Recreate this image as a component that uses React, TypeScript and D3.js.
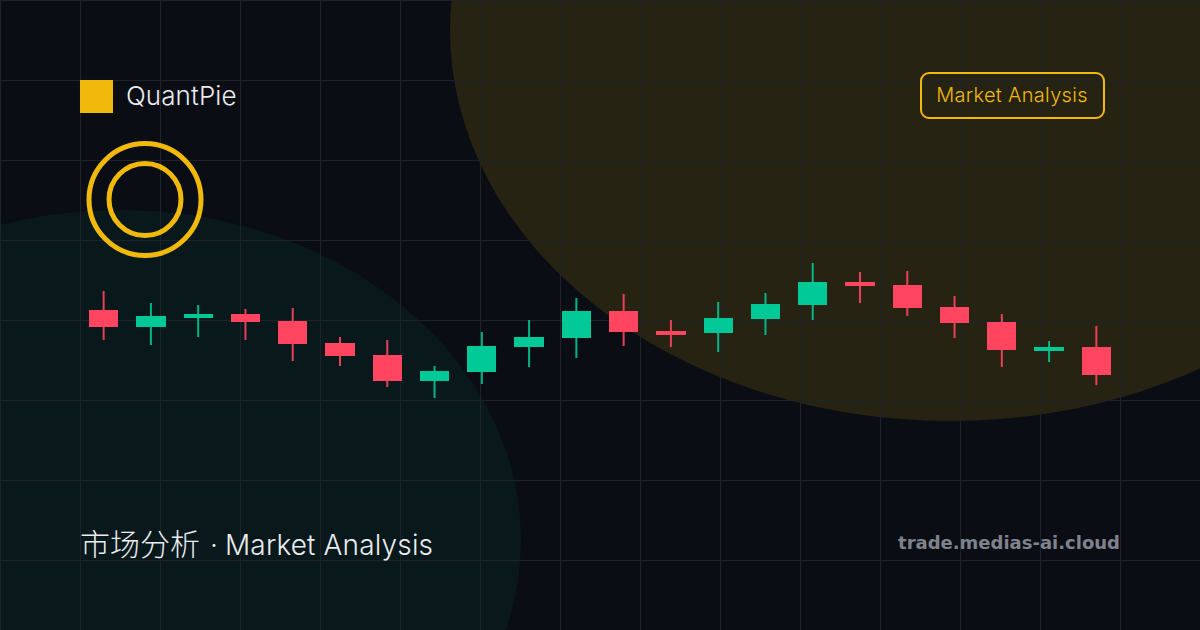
/**
 * Candlestick share card for QuantPie.
 */
import * as d3 from 'd3';

const WIDTH = 1200;
const HEIGHT = 630;

const opens = [320, 303, 312, 316, 309, 287, 275, 249, 258, 283, 292, 319, 299, 297, 311, 325, 348, 345, 323, 308, 279, 283];
const closes = [303, 314, 316, 308, 286, 274, 249, 259, 284, 293, 319, 298, 295, 312, 326, 348, 344, 322, 307, 280, 283, 255];
const highs = [339, 327, 325, 321, 322, 293, 290, 264, 298, 310, 332, 336, 310, 328, 337, 367, 358, 359, 334, 316, 289, 304];
const lows = [290, 285, 293, 290, 269, 264, 243, 232, 246, 263, 272, 284, 283, 278, 295, 310, 327, 314, 292, 263, 268, 245];

const gridXs = d3.range(0, WIDTH, 80);
const gridYs = d3.range(0, HEIGHT, 80);

const UP = '#00c896';
const DOWN = '#ff4560';
const GOLD = '#f0b90b';
const SANS = 'Inter, "Noto Sans CJK SC", sans-serif';

export default function App() {
  const x = d3
    .scaleBand<number>()
    .domain(d3.range(opens.length))
    .range([80, 1120])
    .paddingInner(0.38)
    .paddingOuter(0.19);
  const y = d3.scaleLinear().domain([0, HEIGHT]).range([HEIGHT, 0]);

  return (
    <svg
      width={WIDTH}
      height={HEIGHT}
      viewBox={`0 0 ${WIDTH} ${HEIGHT}`}
      style={{ position: 'fixed', left: 0, top: 0, display: 'block' }}
    >
      <rect width={WIDTH} height={HEIGHT} fill="#0a0d14" />

      {/* Background glows */}
      <ellipse cx={950} cy={30} rx={500} ry={391} fill={GOLD} opacity={0.13} />
      <ellipse cx={120} cy={540} rx={401} ry={330} fill={UP} opacity={0.06} />

      {/* Grid */}
      <g stroke="#1e2329" strokeWidth={1}>
        {gridXs.map((gx) => (
          <line key={gx} x1={gx + 0.5} x2={gx + 0.5} y1={0} y2={HEIGHT} />
        ))}
        {gridYs.map((gy) => (
          <line key={gy} x1={0} x2={WIDTH} y1={gy + 0.5} y2={gy + 0.5} />
        ))}
      </g>

      {/* Logo */}
      <rect x={80} y={80} width={33} height={33} fill={GOLD} />
      <text x={126} y={105} fontFamily={SANS} fontSize={26} fontWeight={300} letterSpacing={0.1} fill="#eaecef">
        QuantPie
      </text>

      {/* Rings */}
      <circle cx={145} cy={199.5} r={56} fill="none" stroke={GOLD} strokeWidth={5} />
      <circle cx={145} cy={199.5} r={36} fill="none" stroke={GOLD} strokeWidth={5} />

      {/* Badge */}
      <rect x={921} y={73} width={183} height={45} rx={8} fill="none" stroke={GOLD} strokeWidth={2} />
      <text
        x={1012}
        y={102}
        textAnchor="middle"
        fontFamily={SANS}
        fontSize={20}
        fontWeight={350}
        letterSpacing={0.3}
        fill={GOLD}
      >
        Market Analysis
      </text>

      {/* Candles */}
      {opens.map((open, i) => {
        const close = closes[i];
        const color = close >= open ? UP : DOWN;
        const left = x(i) ?? 0;
        const cx = left + x.bandwidth() / 2;
        return (
          <g key={i}>
            <line x1={cx} x2={cx} y1={y(highs[i])} y2={y(lows[i])} stroke={color} strokeWidth={2} opacity={0.9} />
            <rect
              x={left}
              y={y(Math.max(open, close))}
              width={x.bandwidth()}
              height={Math.abs(y(open) - y(close))}
              fill={color}
              shapeRendering="crispEdges"
            />
          </g>
        );
      })}

      {/* Footer */}
      <text y={555} fontFamily={SANS} fontSize={28} fontWeight={330} fill="#eaecef">
        <tspan x={80} fontSize={30} fontWeight={300}>市场分析</tspan>
        <tspan x={210}>·</tspan>
        <tspan x={225} letterSpacing={0.15}>Market Analysis</tspan>
      </text>
      <text
        x={1120}
        y={549}
        textAnchor="end"
        fontFamily='"DejaVu Sans", sans-serif'
        fontSize={18}
        fontWeight={700}
        fill="#80838d"
      >
        trade.medias-ai.cloud
      </text>
    </svg>
  );
}
